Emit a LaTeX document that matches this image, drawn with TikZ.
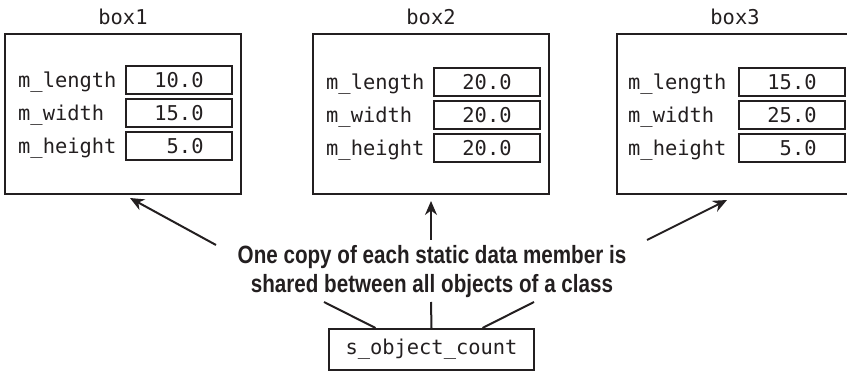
\documentclass[tikz,border=0pt]{standalone}
\usepackage{fontspec}
\usepackage{tikz}
\usetikzlibrary{arrows.meta}
\newfontfamily\codefont{DejaVu Sans Mono}
\newfontfamily\notefont[FakeStretch=0.825]{Liberation Sans}
\definecolor{ink}{HTML}{231F20}
\tikzset{
	mono/.style={font=\codefont\fontsize{20.4}{24}\selectfont, text=ink, inner sep=0pt},
	objbox/.style={draw=ink, line width=2pt, minimum width=236, minimum height=160},
	fieldname/.style={mono, anchor=west, text height=15pt, text depth=0pt},
	fieldval/.style={mono, draw=ink, line width=1.8pt, minimum width=106, minimum height=28, text height=15pt, text depth=0pt},
	pointer/.style={draw=ink, line width=2pt, -{Stealth[length=14pt,width=12pt]}},
	link/.style={draw=ink, line width=2pt}
}

\begin{document}
\begin{tikzpicture}[x=1pt, y=-1pt]
			\useasboundingbox (0,0) rectangle (847,371);
			% the three objects
			\node[objbox](box1) at (123,114){};
			\node[mono, anchor=base](t1) at (123,25){box1};
			\node[fieldname](n11) at (18,80){m\_length};
			\node[fieldname](n12) at (18,113){m\_width};
			\node[fieldname](n13) at (18,146){m\_height};
			\node[fieldval](v11) at (179,80){10.0};
			\node[fieldval](v12) at (179,113){15.0};
			\node[fieldval](v13) at (179,146){\hphantom{1}5.0};
			\node[objbox](box2) at (431,114){};
			\node[mono, anchor=base](t2) at (431,25){box2};
			\node[fieldname](n21) at (326,82){m\_length};
			\node[fieldname](n22) at (326,115){m\_width};
			\node[fieldname](n23) at (326,148){m\_height};
			\node[fieldval](v21) at (487,82){20.0};
			\node[fieldval](v22) at (487,115){20.0};
			\node[fieldval](v23) at (487,148){20.0};
			\node[objbox](box3) at (735,114){};
			\node[mono, anchor=base](t3) at (735,25){box3};
			\node[fieldname](n31) at (628,82){m\_length};
			\node[fieldname](n32) at (628,115){m\_width};
			\node[fieldname](n33) at (628,148){m\_height};
			\node[fieldval](v31) at (792,82){15.0};
			\node[fieldval](v32) at (792,115){25.0};
			\node[fieldval](v33) at (792,148){\hphantom{1}5.0};
			% the shared member and the note
			\node[mono, draw=ink, line width=2pt, minimum width=205, minimum height=41, text height=15pt, text depth=4pt](count) at (431.5,349.5){s\_object\_count};
			\node[font=\notefont\bfseries\fontsize{25}{29}\selectfont, text=ink, align=center, inner sep=0pt](note) at (432,272){One copy of each static data member is\\shared between all objects of a class};
			\coordinate (from1) at (216,245);
			\coordinate (from2) at (431,240);
			\coordinate (from3) at (647,240);
			\coordinate (up1) at (324,302);
			\coordinate (up2) at (431,302);
			\coordinate (up3) at (534,302);
			\draw[pointer] (from1) -- ([xshift=7pt,yshift=-3pt]box1.south);
			\draw[pointer] (from2) -- ([yshift=-6pt]box2.south);
			\draw[pointer] (from3) -- ([xshift=-8pt,yshift=-5pt]box3.south);
			\draw[link] ([xshift=-56pt]count.north) -- (up1);
			\draw[link] (count.north) -- (up2);
			\draw[link] ([xshift=51pt]count.north) -- (up3);
			\end{tikzpicture}
\end{document}
